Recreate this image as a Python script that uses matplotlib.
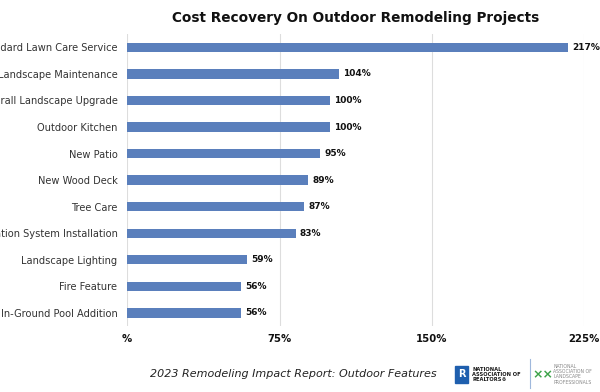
import matplotlib.pyplot as plt
from matplotlib.patches import Rectangle

# data
projects = ["Standard Lawn Care Service", "Landscape Maintenance",
            "Overall Landscape Upgrade", "Outdoor Kitchen", "New Patio",
            "New Wood Deck", "Tree Care", "Irrigation System Installation",
            "Landscape Lighting", "Fire Feature", "In-Ground Pool Addition"]
recovery = [217, 104, 100, 100, 95, 89, 87, 83, 59, 56, 56]
tick_vals = [0, 75, 150, 225]
tick_labels = ["%", "75%", "150%", "225%"]

bar_color = "#5a7fbc"

fig = plt.figure(figsize=(6, 3.92), dpi=100)
ax = fig.add_axes([0.212, 0.168, 0.762, 0.745])

ypos = list(range(len(projects)))
ax.barh(ypos, recovery, height=0.35, color=bar_color, zorder=3)
for y, v in zip(ypos, recovery):
    ax.text(v + 2, y, "%d%%" % v, va="center", ha="left",
            fontsize=6.5, fontweight="bold", color="#111111")

# the reference is cropped on the left, so long names run off the edge
ax.set_yticks(ypos)
ax.set_yticklabels(projects, fontsize=7.1, color="#333333")
ax.set_ylim(len(projects) - 0.5, -0.5)
ax.set_xlim(0, 225)
ax.set_xticks(tick_vals)
ax.set_xticklabels(tick_labels, fontsize=7.3, fontweight="bold", color="#111111")
ax.tick_params(axis="both", length=0)
ax.tick_params(axis="x", pad=6)
ax.tick_params(axis="y", pad=7)
ax.grid(axis="x", color="#dddddd", linewidth=0.8, zorder=0)
for s in ax.spines.values():
    s.set_visible(False)

fig.text(0.592, 0.955, "Cost Recovery On Outdoor Remodeling Projects",
         ha="center", va="center", fontsize=9.8, fontweight="bold", color="#111111")

# footer
fig.text(0.728, 0.045, "2023 Remodeling Impact Report: Outdoor Features",
         ha="right", va="center", fontsize=8, style="italic", color="#222222")

# simple stand-ins for the two logos
fig.patches.append(Rectangle((0.758, 0.022), 0.022, 0.045, transform=fig.transFigure,
                             color="#1f5fae", zorder=5))
fig.text(0.769, 0.045, "R", ha="center", va="center", fontsize=7,
         fontweight="bold", color="white", zorder=6)
fig.text(0.787, 0.045, "NATIONAL\nASSOCIATION OF\nREALTORS\u00ae", ha="left",
         va="center", fontsize=3.7, fontweight="bold", color="#1a1a1a",
         linespacing=1.05)
fig.add_artist(plt.Line2D([0.883, 0.883], [0.01, 0.085], transform=fig.transFigure,
                          color="#9fb8dc", linewidth=0.8))
fig.text(0.905, 0.045, "\u00d7\u00d7", ha="center", va="center", fontsize=9,
         fontweight="bold", color="#3da34a")
fig.text(0.922, 0.045, "NATIONAL\nASSOCIATION OF\nLANDSCAPE\nPROFESSIONALS",
         ha="left", va="center", fontsize=3.3, color="#888888", linespacing=1.05)

plt.savefig("out.png", dpi=100)
